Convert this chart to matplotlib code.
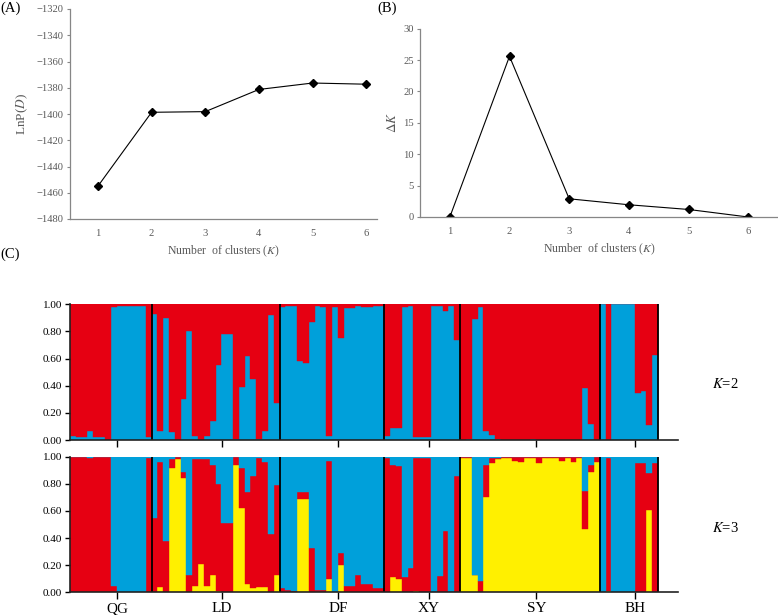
"""
STRUCTURE results: LnP(D) and Delta K by K, plus bar plots of membership for K=2 and K=3.
"""

import numpy as np
import matplotlib
matplotlib.use('Agg')
import matplotlib.pyplot as plt

plt.rcParams.update({
    'font.family': 'Liberation Serif',
    'mathtext.fontset': 'stix',
    'font.size': 8,
})
COLORS = {'red': '#E60012', 'blue': '#00A0DA', 'yellow': '#FFF000'}
GRAY = '#595959'

# ---- data ----
ks = [1, 2, 3, 4, 5, 6]
lnp_d = [-1455.0, -1398.7, -1398.2, -1381.3, -1376.4, -1377.3]
delta_k = [0.0, 25.6, 2.9, 1.95, 1.2, 0.0]

pops = ['QG', 'LD', 'DF', 'XY', 'SY', 'BH']
pop_sizes = [14, 22, 18, 13, 24, 10]

# K=2: share of the blue cluster (rest is red)
k2_blue = (
    [0.03, 0.02, 0.02, 0.07, 0.02, 0.02, 0.00, 0.98, 0.99, 0.99, 0.99, 0.99, 0.99, 0.02]
    + [0.93, 0.07, 0.90, 0.06, 0.00, 0.30, 0.80, 0.03, 0.00, 0.03, 0.14, 0.55, 0.78, 0.78,
       0.01, 0.39, 0.62, 0.45, 0.01, 0.07, 0.92, 0.27]
    + [0.98, 0.99, 0.99, 0.58, 0.57, 0.87, 0.99, 0.98, 0.03, 0.98, 0.75, 0.97, 0.97, 0.99,
       0.98, 0.98, 0.99, 0.99]
    + [0.03, 0.09, 0.09, 0.98, 0.99, 0.02, 0.02, 0.02, 0.99, 0.99, 0.95, 0.99, 0.74]
    + [0.00, 0.01, 0.89, 0.98, 0.07, 0.04, 0.01, 0.00, 0.00, 0.00, 0.00, 0.00, 0.01, 0.00,
       0.00, 0.00, 0.00, 0.00, 0.00, 0.00, 0.00, 0.38, 0.12, 0.00]
    + [1.00, 0.00, 1.00, 1.00, 1.00, 1.00, 0.35, 0.36, 0.11, 0.63]
)

# K=3: yellow share (bottom) and cumulative top of red (yellow + red); blue fills the rest
k3_yellow = (
    [0.0] * 14
    + [0.00, 0.04, 0.00, 0.92, 0.98, 0.84, 0.00, 0.05, 0.21, 0.05, 0.13, 0.01, 0.00, 0.00,
       0.94, 0.62, 0.06, 0.03, 0.04, 0.04, 0.00, 0.13]
    + [0.00, 0.00, 0.00, 0.69, 0.69, 0.00, 0.00, 0.00, 0.10, 0.00, 0.20, 0.00, 0.00, 0.00,
       0.00, 0.00, 0.00, 0.00]
    + [0.00, 0.11, 0.10, 0.00, 0.00, 0.01, 0.00, 0.00, 0.00, 0.00, 0.00, 0.00, 0.00]
    + [0.99, 0.99, 0.13, 0.00, 0.70, 0.95, 0.98, 0.99, 0.99, 0.97, 0.96, 0.99, 0.99, 0.95,
       0.99, 0.99, 0.99, 0.97, 0.99, 0.96, 0.99, 0.47, 0.89, 0.96]
    + [0.00, 0.01, 0.00, 0.00, 0.00, 0.00, 0.00, 0.00, 0.61, 0.00]
)
k3_red_top = (
    [1.00, 1.00, 1.00, 0.99, 1.00, 1.00, 1.00, 0.05, 0.00, 0.00, 0.00, 0.00, 0.00, 0.99]
    + [0.55, 0.96, 0.38, 0.98, 1.00, 0.89, 0.13, 0.98, 0.98, 0.98, 0.94, 0.80, 0.51, 0.51,
       1.00, 0.92, 0.74, 0.86, 0.99, 0.96, 0.43, 0.79]
    + [0.03, 0.02, 0.01, 0.74, 0.74, 0.33, 0.02, 0.02, 0.97, 0.00, 0.29, 0.05, 0.05, 0.13,
       0.06, 0.06, 0.03, 0.03]
    + [0.99, 0.94, 0.93, 0.11, 0.18, 0.99, 0.99, 0.99, 0.00, 0.12, 0.45, 0.00, 0.86]
    + [1.00, 1.00, 0.13, 0.08, 0.94, 0.99, 0.99, 1.00, 1.00, 1.00, 1.00, 1.00, 1.00, 1.00,
       1.00, 1.00, 1.00, 1.00, 1.00, 1.00, 1.00, 0.75, 0.94, 1.00]
    + [0.00, 0.99, 0.00, 0.00, 0.00, 0.00, 0.95, 0.95, 0.88, 0.95]
)

W, H = 778, 615


def px_axes(fig, left, top, right, bottom):
    return fig.add_axes([left / W, 1 - bottom / H, (right - left) / W, (bottom - top) / H])


def style_line_axes(ax):
    for side in ('top', 'right'):
        ax.spines[side].set_visible(False)
    for side in ('left', 'bottom'):
        ax.spines[side].set_color('#868686')
        ax.spines[side].set_linewidth(0.9)
    ax.tick_params(axis='y', length=2.5, width=0.8, color='#868686', labelcolor=GRAY,
                   labelsize=7.6, pad=2)
    ax.tick_params(axis='x', length=0, labelcolor=GRAY, labelsize=7.6, pad=7)


fig = plt.figure(figsize=(W / 100, H / 100), dpi=100)

# Panel A: LnP(D)
ax = px_axes(fig, 70, 9, 377, 219)
ax.plot(ks, lnp_d, color='black', lw=0.8, marker='D', ms=4)
ax.set_xlim(0.48, 6.2)
ax.set_ylim(-1480, -1320)
ax.set_yticks(np.arange(-1480, -1319, 20))
ax.set_xticks(ks)
style_line_axes(ax)
ax.set_xlabel(r'Number  of clusters ($\mathit{K}$)', color=GRAY, fontsize=8.5, labelpad=4)
ax.set_ylabel(r'LnP($\mathit{D}$)', color=GRAY, fontsize=9.5, labelpad=5)

# Panel B: Delta K
ax = px_axes(fig, 420, 28.7, 778, 217)
ax.plot(ks, delta_k, color='black', lw=0.8, marker='D', ms=4)
ax.set_xlim(0.5, 6.5)
ax.set_ylim(0, 30)
ax.set_yticks(np.arange(0, 31, 5))
ax.set_xticks(ks)
style_line_axes(ax)
ax.set_xlabel(r'Number  of clusters ($\mathit{K}$)', color=GRAY, fontsize=8.5, labelpad=4)
ax.set_ylabel(r'$\Delta\mathit{K}$', color=GRAY, fontsize=9.5, labelpad=3)

fig.text(0, 1 - 8 / H, '(A)', fontsize=10.5, va='center', ha='left')
fig.text(377 / W, 1 - 8 / H, '(B)', fontsize=10.5, va='center', ha='left')
fig.text(0, 1 - 254 / H, '(C)', fontsize=10.5, va='center', ha='left')

# Panel C: structure bar plots
n = sum(pop_sizes)
x = np.arange(n)
bounds = np.cumsum(pop_sizes)
starts = bounds - np.array(pop_sizes)
tick_pos = starts + np.array(pop_sizes) / 2 + 1.1
k2_blue = np.array(k2_blue)
k3_yellow = np.array(k3_yellow)
k3_red_top = np.array(k3_red_top)


def bar_layer(ax, bottom, height, color):
    ax.bar(x, height, width=1.0, bottom=bottom, align='edge', color=color,
           edgecolor=color, linewidth=0.3)


def style_structure(ax, labels):
    for side in ('top', 'right'):
        ax.spines[side].set_visible(False)
    for side in ('left', 'bottom'):
        ax.spines[side].set_color('#222222')
        ax.spines[side].set_linewidth(1.2)
    ax.set_xlim(0, n * (678 - 70) / (658 - 70))
    ax.set_ylim(0, 1.0)
    ax.set_yticks(np.arange(0, 1.01, 0.2))
    ax.set_yticklabels([f'{v:.2f}' for v in np.arange(0, 1.01, 0.2)])
    ax.set_xticks(tick_pos)
    ax.set_xticklabels(labels)
    ax.tick_params(axis='y', length=3.5, width=1.0, labelsize=8, pad=2)
    ax.tick_params(axis='x', length=5, width=1.0, labelsize=11, pad=2)
    ax.vlines(bounds, 0, 1, color='black', lw=1.3)


ax2 = px_axes(fig, 70, 304.3, 678, 440)
bar_layer(ax2, 0, k2_blue, COLORS['blue'])
bar_layer(ax2, k2_blue, 1 - k2_blue, COLORS['red'])
style_structure(ax2, [''] * len(pops))

ax3 = px_axes(fig, 70, 456.7, 678, 592.3)
bar_layer(ax3, 0, k3_yellow, COLORS['yellow'])
bar_layer(ax3, k3_yellow, k3_red_top - k3_yellow, COLORS['red'])
bar_layer(ax3, k3_red_top, 1 - k3_red_top, COLORS['blue'])
style_structure(ax3, pops)

fig.text(725 / W, 1 - 384 / H, r'$\mathit{K}$=2', fontsize=10.5, ha='center', va='center')
fig.text(725 / W, 1 - 528 / H, r'$\mathit{K}$=3', fontsize=10.5, ha='center', va='center')

fig.savefig('out.png', dpi=100)
plt.close(fig)
print('Saved: out.png')
